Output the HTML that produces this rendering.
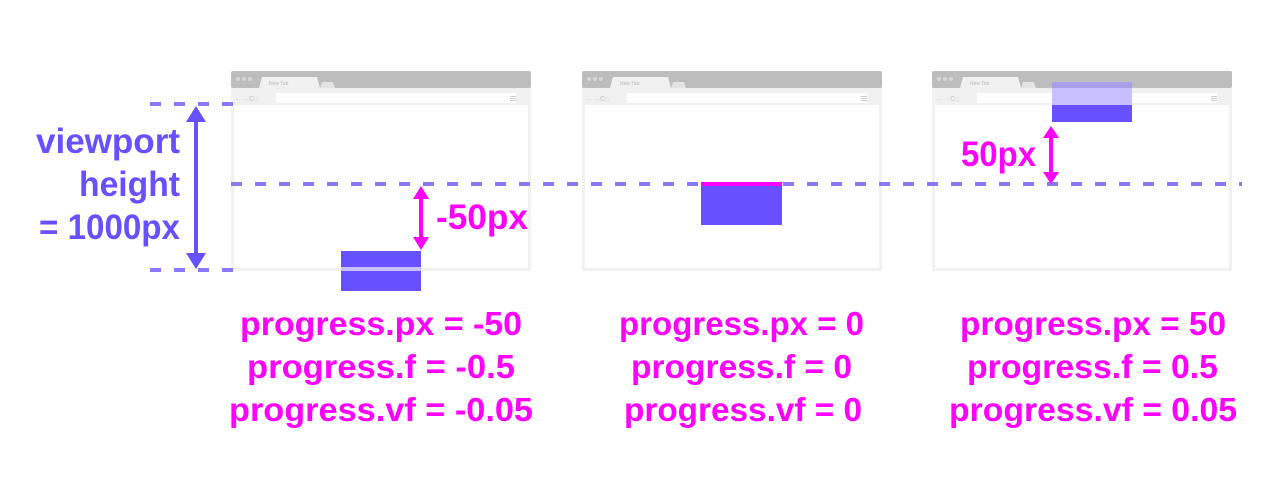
<!DOCTYPE html>
<html><head><meta charset="utf-8"><style>
html,body{margin:0;padding:0;background:#fff;}
svg{display:block;}
text{font-family:"Liberation Sans",sans-serif;font-weight:bold;}
</style></head><body>
<svg width="1281" height="481" viewBox="0 0 1281 481" xmlns="http://www.w3.org/2000/svg">
<defs>
<g id="browser">
  <rect x="0" y="0" width="300" height="200" rx="2" fill="#f1f1f1"/>
  <rect x="0" y="0" width="300" height="17" rx="2" fill="#bdbdbd"/>
  <circle cx="7" cy="8" r="2" fill="#d6d6d6"/><circle cx="13" cy="8" r="2" fill="#d6d6d6"/><circle cx="19" cy="8" r="2" fill="#d6d6d6"/>
  <path d="M28 17 L31 6 L86 6 L89 17 Z" fill="#f1f1f1"/>
  <text x="38" y="14" font-size="5" fill="#bbb" style="font-weight:normal">New Tab</text>
  <path d="M89 17 L91 11 L102 11 L104 17 Z" fill="#e4e4e4"/>
  <rect x="45" y="22" width="240" height="10" fill="#fff"/>
  <text x="4" y="30" font-size="7" fill="#ccc">←→C⌂</text>
  <rect x="279" y="25" width="6" height="1" fill="#ccc"/><rect x="279" y="27" width="6" height="1" fill="#ccc"/><rect x="279" y="29" width="6" height="1" fill="#ccc"/>
  <rect x="3" y="34" width="294" height="163" fill="#fff"/>
</g>
</defs>

<g><use href="#browser" x="231" y="71"/></g>
<g><use href="#browser" x="582" y="71"/></g>
<g><use href="#browser" x="932" y="71"/></g>

<!-- dashed lines -->
<line x1="150" y1="104" x2="234" y2="104" stroke="#8a78ff" stroke-width="4" stroke-dasharray="11 13"/>
<line x1="231" y1="184" x2="1242" y2="184" stroke="#8a78ff" stroke-width="4" stroke-dasharray="11 13"/>
<line x1="150" y1="270" x2="234" y2="270" stroke="#8a78ff" stroke-width="4" stroke-dasharray="11 13"/>

<!-- element boxes -->
<rect x="341" y="251" width="80" height="40" fill="#6650ff"/>
<rect x="341" y="267" width="80" height="4" fill="#c9c0ff"/>
<rect x="701" y="182" width="81" height="43" fill="#6650ff"/>
<rect x="701" y="182" width="81" height="4" fill="#ff00ff"/>
<rect x="1052" y="82" width="80" height="40" fill="#6650ff"/>
<rect x="1052" y="82" width="80" height="23" fill="#d8d2ff" opacity="0.85"/>
<rect x="1052" y="82" width="80" height="6" fill="#9488d8" opacity="0.6"/>

<!-- viewport arrow -->
<g fill="#6650ff">
  <rect x="194" y="118" width="4" height="140"/>
  <path d="M196 106 L186 122 L206 122 Z"/>
  <path d="M196 269 L186 253 L206 253 Z"/>
</g>
<g fill="#6650ff" font-size="35" text-anchor="end">
  <text x="180" y="153" textLength="144" lengthAdjust="spacingAndGlyphs">viewport</text>
  <text x="180" y="196" textLength="101" lengthAdjust="spacingAndGlyphs">height</text>
  <text x="180" y="239" textLength="141" lengthAdjust="spacingAndGlyphs">= 1000px</text>
</g>

<!-- magenta arrows -->
<g fill="#ff00ff">
  <rect x="419" y="196" width="4" height="44"/>
  <path d="M421 186 L413 199 L429 199 Z"/><path d="M421 250 L413 237 L429 237 Z"/>
</g>
<text x="436" y="229" font-size="35" fill="#ff00ff" textLength="92" lengthAdjust="spacingAndGlyphs">-50px</text>
<g fill="#ff00ff">
  <rect x="1049" y="135" width="4" height="40"/>
  <path d="M1051 126 L1043 138 L1059 138 Z"/><path d="M1051 184 L1043 172 L1059 172 Z"/>
</g>
<text x="961" y="166" font-size="35" fill="#ff00ff" textLength="75" lengthAdjust="spacingAndGlyphs">50px</text>

<!-- progress labels -->
<g fill="#ff00ff" font-size="33">
  <text x="240" y="335" textLength="282" lengthAdjust="spacingAndGlyphs">progress.px = -50</text>
  <text x="247" y="378" textLength="268" lengthAdjust="spacingAndGlyphs">progress.f = -0.5</text>
  <text x="229" y="421" textLength="304" lengthAdjust="spacingAndGlyphs">progress.vf = -0.05</text>
</g>
<g fill="#ff00ff" font-size="33">
  <text x="619" y="335" textLength="245" lengthAdjust="spacingAndGlyphs">progress.px = 0</text>
  <text x="631" y="378" textLength="221" lengthAdjust="spacingAndGlyphs">progress.f = 0</text>
  <text x="624" y="421" textLength="238" lengthAdjust="spacingAndGlyphs">progress.vf = 0</text>
</g>
<g fill="#ff00ff" font-size="33">
  <text x="960" y="335" textLength="266" lengthAdjust="spacingAndGlyphs">progress.px = 50</text>
  <text x="967" y="378" textLength="251" lengthAdjust="spacingAndGlyphs">progress.f = 0.5</text>
  <text x="949" y="421" textLength="288" lengthAdjust="spacingAndGlyphs">progress.vf = 0.05</text>
</g>
</svg>
</body></html>
